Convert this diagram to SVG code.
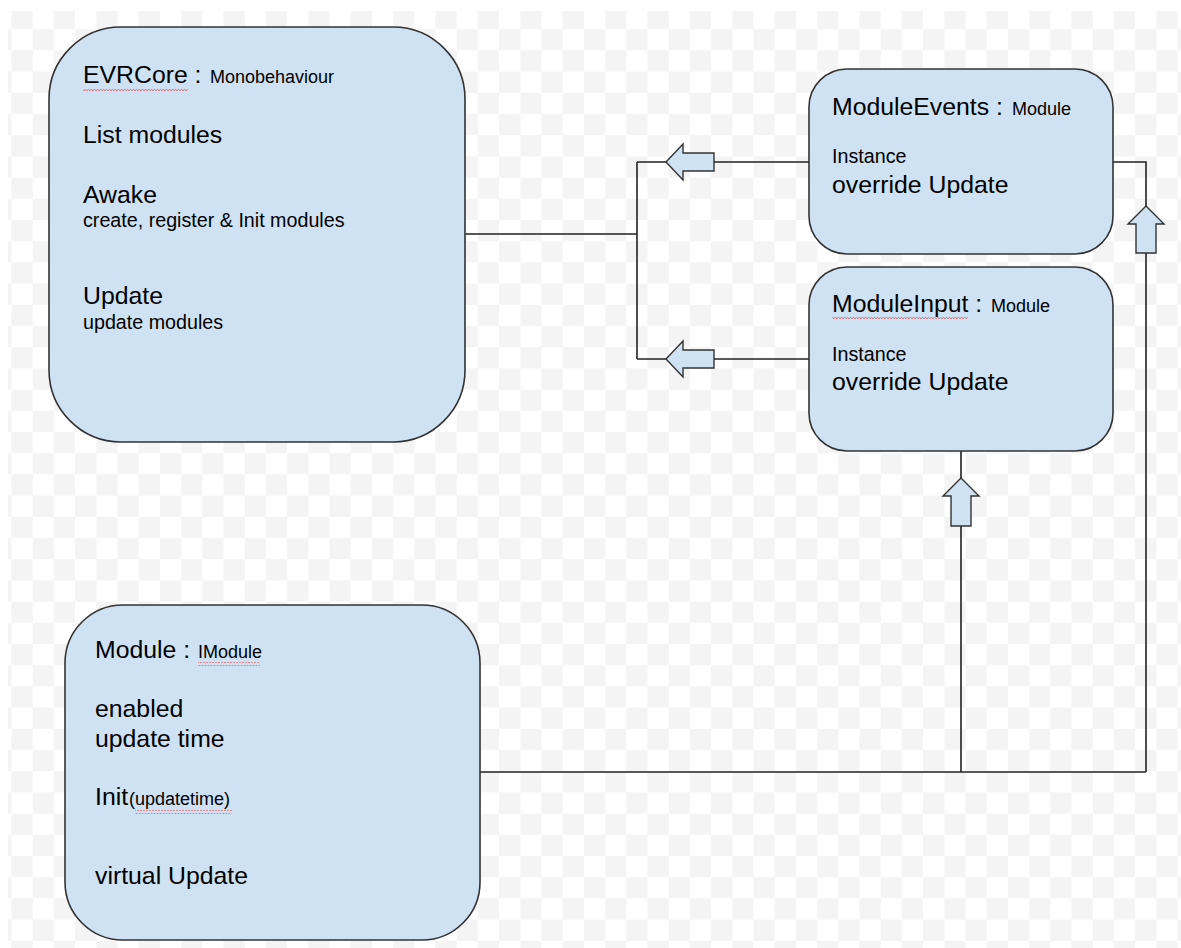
<svg xmlns="http://www.w3.org/2000/svg" width="1181" height="948" viewBox="0 0 1181 948">
<defs>
<pattern id="chk" x="-9.7" y="8" width="42.4" height="42.4" patternUnits="userSpaceOnUse">
<rect x="0" y="0" width="42.4" height="42.4" fill="#ffffff"/>
<rect x="21.2" y="0" width="21.2" height="21.2" fill="#f4f4f4"/>
<rect x="0" y="21.2" width="21.2" height="21.2" fill="#f4f4f4"/>
</pattern>
<pattern id="sq" x="0" y="0" width="6" height="4" patternUnits="userSpaceOnUse">
<path d="M0,3 L1.5,1 L3,3 L4.5,1 L6,3" fill="none" stroke="#e06666" stroke-width="0.8"/>
</pattern>
</defs>
<style>
.box{fill:#cfe2f3;stroke:#333;stroke-width:1.6}
.arr{fill:#cfe2f3;stroke:#333;stroke-width:1.4;stroke-linejoin:miter}
.ln{fill:none;stroke:#222;stroke-width:1.6}
text{font-family:"Liberation Sans",Arial,sans-serif;fill:#000}
.b{font-size:24.8px}
.m{font-size:19.7px}
.s{font-size:18px}
</style>
<rect x="0" y="0" width="1181" height="948" fill="#ffffff"/>
<rect x="8" y="11" width="1173" height="937" fill="url(#chk)"/>

<g id="connectors">
<path class="ln" d="M465,234 H637 M637,162 V359 M637,162 H666 M714,162 H809 M637,359 H666 M714,359 H809"/>
<path class="ln" d="M1113,162 H1146 V206 M1146,253 V772 M961,451 V478 M961,526 V772 M480,772 H1146"/>
<polygon class="arr" points="666,162 683,144 683,153 714,153 714,171 683,171 683,180"/>
<polygon class="arr" points="666,359 683,341 683,350 714,350 714,368 683,368 683,377"/>
<polygon class="arr" points="1146,206 1164,224 1156,224 1156,253 1136,253 1136,224 1128,224"/>
<polygon class="arr" points="961,478 979,496 971,496 971,526 951,526 951,496 943,496"/>
</g>

<g id="evrcore">
<rect class="box" x="49" y="27" width="416" height="415" rx="72" ry="72"/>
<text x="83" y="83"><tspan class="b">EVRCore : </tspan><tspan class="s" x="210">Monobehaviour</tspan></text>
<rect x="83" y="88" width="105" height="4" fill="url(#sq)"/>
<text class="b" x="83" y="143">List modules</text>
<text class="b" x="83" y="203">Awake</text>
<text class="m" x="83" y="227">create, register &amp; Init modules</text>
<text class="b" x="83" y="304">Update</text>
<text class="m" x="83" y="329">update modules</text>
</g>

<g id="moduleevents">
<rect class="box" x="809" y="69" width="304" height="185" rx="38" ry="38"/>
<text x="832" y="115"><tspan class="b">ModuleEvents : </tspan><tspan class="s" x="1012">Module</tspan></text>
<text class="m" x="832" y="163">Instance</text>
<text class="b" x="832" y="193">override Update</text>
</g>

<g id="moduleinput">
<rect class="box" x="809" y="267" width="304" height="184" rx="38" ry="38"/>
<text x="832" y="312"><tspan class="b">ModuleInput : </tspan><tspan class="s" x="991">Module</tspan></text>
<rect x="832" y="317" width="136" height="4" fill="url(#sq)"/>
<text class="m" x="832" y="361">Instance</text>
<text class="b" x="832" y="390">override Update</text>
</g>

<g id="module">
<rect class="box" x="65" y="605" width="415" height="335" rx="58" ry="58"/>
<text x="95" y="658"><tspan class="b">Module : </tspan><tspan class="s" x="198">IModule</tspan></text>
<rect x="198" y="662" width="62" height="4" fill="url(#sq)"/>
<text class="b" x="95" y="717">enabled</text>
<text class="b" x="95" y="747">update time</text>
<text x="95" y="805"><tspan class="b">Init</tspan><tspan class="s" x="129">(updatetime)</tspan></text>
<rect x="135" y="810" width="97" height="4" fill="url(#sq)"/>
<text class="b" x="95" y="884">virtual Update</text>
</g>
</svg>
